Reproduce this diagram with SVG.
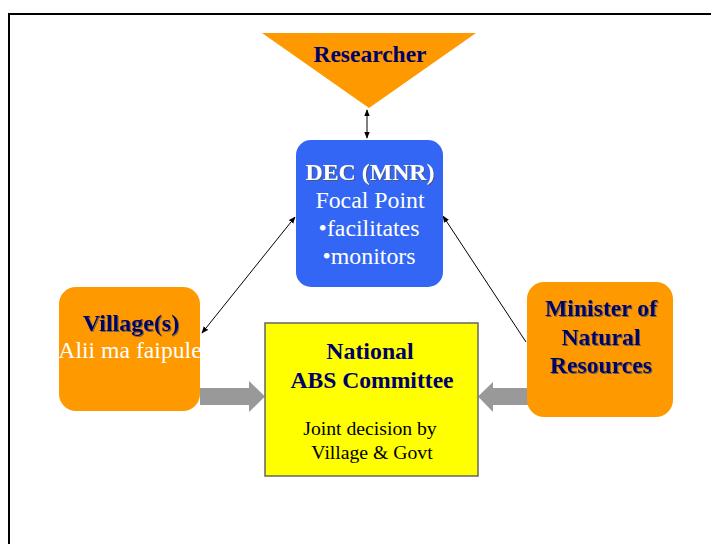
<svg xmlns="http://www.w3.org/2000/svg" width="711" height="544" viewBox="0 0 711 544">
<style>
.t{font-family:"Liberation Serif","Times New Roman",serif;text-anchor:middle}
.b{font-weight:bold;fill:#000066}
.w{fill:#ffffff}
.k{fill:#000000}
.ln{stroke:#000;stroke-width:1;fill:none}
.ga{fill:#999999}
</style>
<defs>
<marker id="ah" viewBox="0 0 10 10" refX="9" refY="5" markerWidth="7" markerHeight="7" orient="auto-start-reverse" markerUnits="userSpaceOnUse">
<path d="M0,1 L10,5 L0,9 z" fill="#000"/>
</marker>
<filter id="sh" x="-10%" y="-10%" width="130%" height="130%">
<feDropShadow dx="1" dy="1" stdDeviation="0.3" flood-color="#555555" flood-opacity="0.8"/>
</filter>
</defs>
<rect width="711" height="544" fill="#ffffff"/>
<path d="M9,544 V14 H711" fill="none" stroke="#000" stroke-width="2"/>

<g id="connectors">
<line class="ln" x1="367" y1="110" x2="367" y2="138" marker-start="url(#ah)" marker-end="url(#ah)"/>
<line class="ln" x1="202" y1="333" x2="295" y2="217" marker-start="url(#ah)" marker-end="url(#ah)"/>
<line class="ln" x1="526" y1="342" x2="443" y2="216" marker-end="url(#ah)"/>
<path class="ga" d="M200,388 H249 V381 L265,396.5 L249,412 V405 H200 z"/>
<path class="ga" d="M532,388 H493 V382 L478,396.5 L493,412 V405 H532 z"/>
</g>

<g id="researcher">
<polygon points="262,33 476,33 369,108" fill="#ff9900"/>
<text class="t b" x="370" y="62" font-size="23.5">Researcher</text>
</g>

<g id="dec">
<rect x="296" y="140" width="147" height="147" rx="15" fill="#3366f5"/>
<text class="t w" font-size="23.8" filter="url(#sh)" font-weight="bold" x="370" y="180">DEC (MNR)</text>
<text class="t w" font-size="23.8" x="370" y="208">Focal Point</text>
<text class="t w" font-size="23.8" x="369" y="236">•facilitates</text>
<text class="t w" font-size="23.8" x="369" y="264">•monitors</text>
</g>

<g id="village">
<rect x="59" y="287" width="141" height="124" rx="17" fill="#ff9900"/>
<text class="t b" font-size="24" filter="url(#sh)" x="131" y="331">Village(s)</text>
<text class="t w" font-size="23.7" x="130" y="358">Alii ma faipule</text>
</g>

<g id="minister">
<rect x="527" y="282" width="146" height="135" rx="17" fill="#ff9900"/>
<text class="t b" font-size="23.7" filter="url(#sh)" x="601" y="316">Minister of</text>
<text class="t b" font-size="23.7" filter="url(#sh)" x="601" y="345">Natural</text>
<text class="t b" font-size="23.7" filter="url(#sh)" x="601" y="373">Resources</text>
</g>

<g id="committee">
<rect x="265" y="323" width="213" height="153" fill="#ffff00" stroke="#666666" stroke-width="1.5"/>
<text class="t b" font-size="23.8" x="370" y="359">National</text>
<text class="t b" font-size="23.6" x="372" y="388">ABS Committee</text>
<text class="t k" font-size="19.7" x="370" y="435">Joint decision by</text>
<text class="t k" font-size="19.7" x="372" y="459">Village &amp; Govt</text>
</g>
</svg>
